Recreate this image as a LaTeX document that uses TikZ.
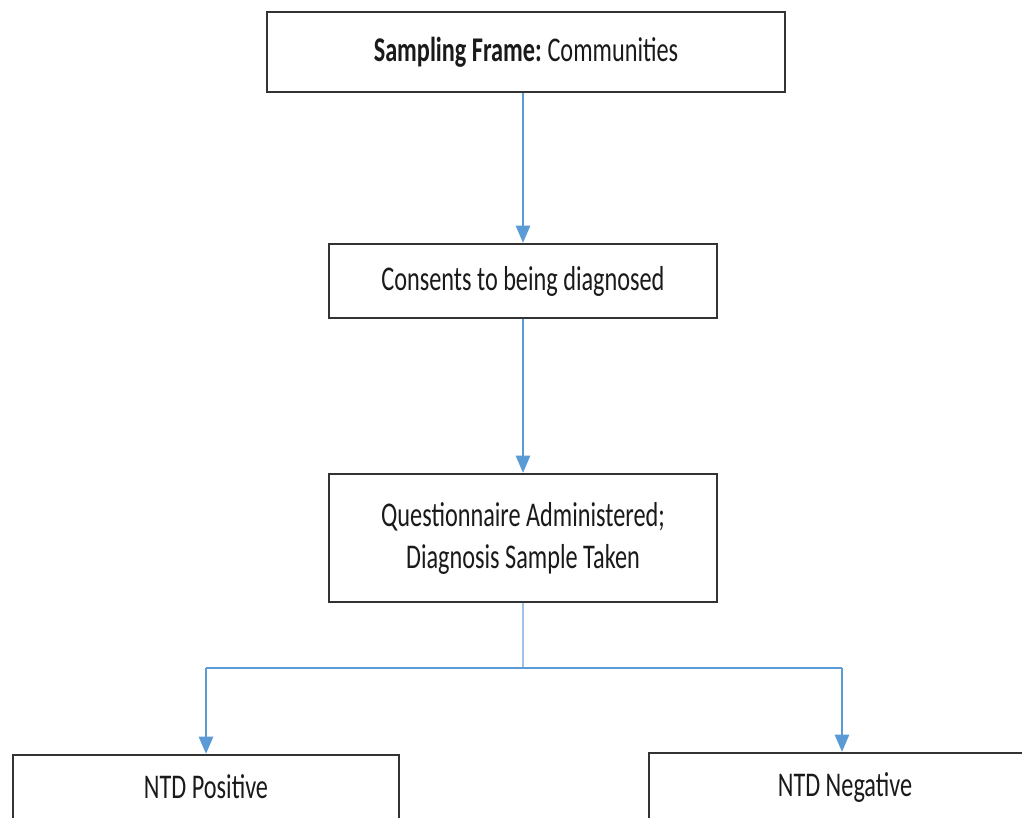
\documentclass[tikz,border=0pt]{standalone}
\usepackage{fontspec}
\setmainfont{Carlito}[FakeStretch=0.70]
\usetikzlibrary{arrows.meta}
\definecolor{lineblue}{HTML}{5B9BD5}
\definecolor{stemblue}{HTML}{9DC3E6}
\definecolor{boxline}{HTML}{333333}
\definecolor{txt}{HTML}{1A1A1A}
\tikzset{
  lbl/.style={text=txt, font=\fontsize{26}{31.5}\selectfont},
  box/.style={draw=boxline, line width=1.6pt, fill=white, inner sep=0pt, align=center, lbl},
  arr/.style={draw=lineblue, line width=2.1pt, -{Triangle[width=10.5pt,length=13pt]}},
  stemline/.style={draw=stemblue, line width=1pt},
  branch/.style={draw=lineblue, line width=2.1pt}
}
\begin{document}
\begin{tikzpicture}[x=0.75pt,y=-0.75pt]
\clip (0,0) rectangle (1022,818);
\fill[white] (0,0) rectangle (1022,818);
\node[box, minimum width=388.5pt, minimum height=60pt] (frame) at (526,52) {\textbf{Sampling Frame:}\,Communities};
\node[box, minimum width=291pt, minimum height=55.5pt] (consent) at (523,281) {Consents to being diagnosed};
\node[box, minimum width=291pt, minimum height=96pt] (quest) at (523,538) {Questionnaire Administered;\\Diagnosis Sample Taken};
\node[box, minimum width=289.5pt, minimum height=90pt] (pos) at (206,815) {};
\node[box, minimum width=289.5pt, minimum height=90pt] (neg) at (842,813) {};
\node[lbl] (posl) at (206,787) {NTD Positive};
\node[lbl] (negl) at (845,787) {NTD Negative};
\coordinate (j) at (523,668);
\draw[arr] (frame.south -| consent.north) -- (consent.north);
\draw[arr] (consent.south) -- (quest.north);
\draw[stemline] (quest.south) -- (j);
\draw[branch] (pos.north |- j) -- (neg.north |- j);
\draw[arr] (pos.north |- j) -- (pos.north);
\draw[arr] (neg.north |- j) -- (neg.north);
\end{tikzpicture}
\end{document}
